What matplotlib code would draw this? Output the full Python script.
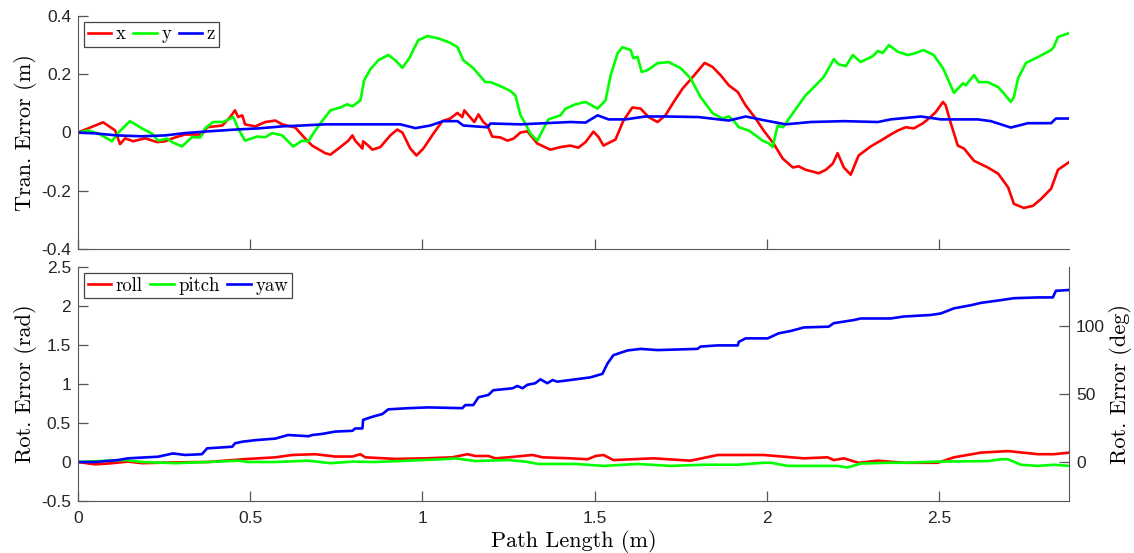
import matplotlib.pyplot as plt
from matplotlib.ticker import FuncFormatter
import numpy as np

# Datos (longitud de camino en m, error)
x_path = [0, 0.073, 0.108, 0.122, 0.137, 0.160, 0.195, 0.230, 0.253, 0.282, 0.311, 0.360, 0.375,
          0.419, 0.442, 0.456, 0.465, 0.477, 0.485, 0.515, 0.544, 0.573, 0.593, 0.631, 0.660, 0.680,
          0.718, 0.733, 0.762, 0.785, 0.797, 0.805, 0.826, 0.828, 0.843, 0.855, 0.878, 0.907, 0.927,
          0.942, 0.965, 0.983, 1.003, 1.032, 1.058, 1.081, 1.102, 1.116, 1.122, 1.134, 1.151, 1.163,
          1.177, 1.189, 1.203, 1.227, 1.247, 1.265, 1.285, 1.305, 1.334, 1.372, 1.401, 1.430, 1.453,
          1.474, 1.497, 1.512, 1.526, 1.561, 1.584, 1.610, 1.634, 1.657, 1.683, 1.706, 1.730, 1.756,
          1.785, 1.802, 1.820, 1.843, 1.866, 1.890, 1.916, 1.939, 1.968, 1.991, 2.020, 2.047, 2.076,
          2.093, 2.113, 2.142, 2.151, 2.172, 2.192, 2.206, 2.224, 2.244, 2.267, 2.302, 2.331, 2.360,
          2.381, 2.404, 2.427, 2.453, 2.471, 2.491, 2.512, 2.520, 2.535, 2.555, 2.573, 2.602, 2.642,
          2.672, 2.701, 2.718, 2.747, 2.773, 2.797, 2.826, 2.846, 2.878]
x_err = [0, 0.035, 0.007, -0.04, -0.02, -0.03, -0.02, -0.033, -0.03, -0.017, -0.007, -0.007, 0.018,
         0.024, 0.053, 0.076, 0.053, 0.059, 0.028, 0.021, 0.036, 0.041, 0.028, 0.017, -0.021, -0.045,
         -0.071, -0.076, -0.05, -0.028, -0.01, -0.028, -0.055, -0.03, -0.045, -0.059, -0.05, -0.01, 0.01,
         0.0, -0.055, -0.079, -0.055, -0.004, 0.039, 0.048, 0.067, 0.053, 0.076, 0.059, 0.036, 0.062,
         0.036, 0.024, -0.014, -0.017, -0.028, -0.021, 0.0, 0.004, -0.038, -0.059, -0.05, -0.045, -0.052,
         -0.033, 0.003, -0.016, -0.045, -0.024, 0.041, 0.086, 0.082, 0.053, 0.036, 0.059, 0.105, 0.151,
         0.19, 0.214, 0.239, 0.225, 0.197, 0.162, 0.139, 0.093, 0.048, 0.007, -0.038, -0.09, -0.12,
         -0.116, -0.128, -0.137, -0.14, -0.128, -0.107, -0.071, -0.12, -0.145, -0.079, -0.048, -0.028, -0.007,
         0.007, 0.018, 0.014, 0.031, 0.048, 0.07, 0.105, 0.093, 0.031, -0.045, -0.055, -0.097, -0.12,
         -0.141, -0.188, -0.245, -0.259, -0.252, -0.228, -0.193, -0.128, -0.102]

y_path = [0, 0.029, 0.058, 0.099, 0.116, 0.151, 0.186, 0.215, 0.233, 0.259, 0.273, 0.302, 0.331,
          0.355, 0.369, 0.392, 0.422, 0.451, 0.465, 0.485, 0.520, 0.544, 0.564, 0.593, 0.625, 0.651,
          0.669, 0.689, 0.703, 0.733, 0.762, 0.782, 0.797, 0.820, 0.831, 0.849, 0.872, 0.901, 0.922,
          0.942, 0.962, 0.988, 1.015, 1.047, 1.081, 1.102, 1.119, 1.148, 1.183, 1.198, 1.233, 1.256,
          1.270, 1.285, 1.299, 1.314, 1.334, 1.349, 1.366, 1.401, 1.416, 1.445, 1.474, 1.509, 1.532,
          1.547, 1.567, 1.581, 1.605, 1.613, 1.625, 1.637, 1.654, 1.683, 1.715, 1.750, 1.779, 1.808,
          1.843, 1.872, 1.890, 1.904, 1.919, 1.948, 1.968, 1.988, 2.006, 2.017, 2.032, 2.047, 2.076,
          2.113, 2.128, 2.166, 2.195, 2.209, 2.230, 2.250, 2.273, 2.308, 2.323, 2.337, 2.355, 2.381,
          2.410, 2.433, 2.456, 2.485, 2.512, 2.544, 2.570, 2.578, 2.602, 2.616, 2.642, 2.672, 2.689,
          2.709, 2.718, 2.730, 2.753, 2.788, 2.826, 2.834, 2.846, 2.878]
y_err = [0, 0.007, -0.003, -0.03, -0.002, 0.039, 0.014, -0.004, -0.028, -0.021, -0.033, -0.048, -0.016,
         -0.017, 0.014, 0.036, 0.036, 0.053, 0.014, -0.028, -0.014, -0.016, -0.002, -0.01, -0.048, -0.028,
         -0.03, 0.007, 0.03, 0.076, 0.086, 0.097, 0.09, 0.11, 0.179, 0.217, 0.248, 0.266, 0.248,
         0.222, 0.255, 0.317, 0.331, 0.323, 0.308, 0.293, 0.248, 0.221, 0.173, 0.173, 0.156, 0.142,
         0.128, 0.059, 0.031, -0.004, -0.028, 0.007, 0.045, 0.059, 0.082, 0.097, 0.105, 0.082, 0.11,
         0.197, 0.272, 0.293, 0.283, 0.255, 0.26, 0.208, 0.214, 0.238, 0.242, 0.221, 0.186, 0.122,
         0.066, 0.048, 0.055, 0.041, 0.018, 0.007, -0.01, -0.028, -0.037, -0.05, 0.024, 0.018, 0.066,
         0.128, 0.145, 0.191, 0.252, 0.234, 0.228, 0.266, 0.242, 0.262, 0.28, 0.273, 0.3, 0.277,
         0.266, 0.273, 0.283, 0.266, 0.221, 0.136, 0.169, 0.162, 0.197, 0.173, 0.173, 0.156, 0.134,
         0.105, 0.122, 0.186, 0.239, 0.259, 0.283, 0.294, 0.328, 0.341]

z_path = [0, 0.049, 0.113, 0.186, 0.253, 0.311, 0.378, 0.456, 0.523, 0.593, 0.651, 0.718, 0.791,
          0.898, 0.936, 0.980, 1.023, 1.061, 1.102, 1.119, 1.189, 1.198, 1.285, 1.430, 1.474, 1.509,
          1.541, 1.590, 1.648, 1.706, 1.802, 1.890, 1.939, 1.997, 2.055, 2.128, 2.224, 2.323, 2.360,
          2.448, 2.506, 2.613, 2.651, 2.709, 2.759, 2.826, 2.840, 2.878]
z_err = [0, -0.003, -0.01, -0.013, -0.01, -0.002, 0.004, 0.01, 0.014, 0.021, 0.024, 0.028, 0.028,
         0.028, 0.028, 0.015, 0.024, 0.039, 0.039, 0.024, 0.018, 0.031, 0.028, 0.036, 0.034, 0.059,
         0.045, 0.045, 0.055, 0.055, 0.053, 0.041, 0.055, 0.041, 0.028, 0.036, 0.039, 0.036, 0.045,
         0.055, 0.045, 0.045, 0.039, 0.017, 0.032, 0.032, 0.048, 0.048]

roll_path = [0, 0.049, 0.087, 0.145, 0.186, 0.282, 0.378, 0.477, 0.573, 0.622, 0.689, 0.747, 0.797,
             0.820, 0.834, 0.922, 1.009, 1.087, 1.131, 1.154, 1.192, 1.212, 1.250, 1.320, 1.349, 1.430,
             1.480, 1.503, 1.526, 1.555, 1.672, 1.779, 1.858, 1.991, 2.108, 2.177, 2.195, 2.224, 2.267,
             2.323, 2.398, 2.497, 2.544, 2.622, 2.701, 2.788, 2.834, 2.878]
roll_err = [0, -0.03, -0.02, 0.005, -0.015, -0.005, 0, 0.035, 0.06, 0.09, 0.1, 0.07, 0.07,
            0.1, 0.06, 0.04, 0.047, 0.06, 0.1, 0.077, 0.077, 0.047, 0.06, 0.09, 0.06, 0.047,
            0.035, 0.077, 0.09, 0.025, 0.047, 0.017, 0.09, 0.09, 0.047, 0.06, 0.025, 0.047, -0.01,
            0.017, -0.01, -0.01, 0.06, 0.12, 0.14, 0.1, 0.1, 0.12]

pitch_path = [0, 0.087, 0.137, 0.186, 0.282, 0.378, 0.465, 0.494, 0.573, 0.669, 0.733, 0.797, 0.863,
              0.959, 1.058, 1.096, 1.154, 1.250, 1.299, 1.337, 1.445, 1.526, 1.625, 1.721, 1.817, 1.916,
              1.991, 2.012, 2.061, 2.206, 2.235, 2.273, 2.352, 2.398, 2.497, 2.642, 2.680, 2.701, 2.738,
              2.788, 2.834, 2.878]
pitch_err = [0, 0.017, 0.025, 0, -0.015, 0, 0.017, 0, 0, 0.017, -0.015, 0.005, 0,
             0.017, 0.035, 0.047, 0.012, 0.025, 0.005, -0.025, -0.025, -0.05, -0.025, -0.05, -0.035, -0.035,
             -0.01, -0.01, -0.05, -0.05, -0.07, -0.02, -0.01, -0.01, 0.005, 0.012, 0.035, 0.035, -0.035,
             -0.05, -0.035, -0.05]

yaw_path = [0, 0.049, 0.116, 0.145, 0.233, 0.276, 0.311, 0.360, 0.375, 0.448, 0.456, 0.477, 0.515,
            0.573, 0.610, 0.660, 0.669, 0.680, 0.709, 0.747, 0.797, 0.805, 0.826, 0.828, 0.855, 0.884,
            0.901, 0.959, 1.017, 1.116, 1.125, 1.148, 1.163, 1.192, 1.206, 1.262, 1.276, 1.291, 1.305,
            1.328, 1.343, 1.363, 1.378, 1.392, 1.445, 1.488, 1.523, 1.538, 1.555, 1.596, 1.634, 1.683,
            1.799, 1.808, 1.858, 1.916, 1.919, 1.939, 2.003, 2.035, 2.070, 2.108, 2.180, 2.195, 2.253,
            2.273, 2.360, 2.398, 2.477, 2.506, 2.544, 2.593, 2.622, 2.672, 2.718, 2.788, 2.831, 2.840,
            2.878]
yaw_err = [0, 0, 0.025, 0.047, 0.068, 0.11, 0.09, 0.1, 0.175, 0.196, 0.24, 0.26, 0.28,
           0.3, 0.346, 0.333, 0.33, 0.346, 0.36, 0.39, 0.4, 0.43, 0.43, 0.54, 0.58, 0.615,
           0.675, 0.69, 0.7, 0.69, 0.73, 0.73, 0.83, 0.86, 0.92, 0.945, 0.975, 0.945, 0.99,
           1.01, 1.06, 1.01, 1.05, 1.03, 1.06, 1.085, 1.13, 1.265, 1.37, 1.43, 1.45, 1.435,
           1.45, 1.48, 1.495, 1.495, 1.54, 1.585, 1.585, 1.65, 1.68, 1.725, 1.735, 1.78, 1.82,
           1.84, 1.84, 1.865, 1.885, 1.905, 1.97, 2.01, 2.04, 2.07, 2.1, 2.11, 2.11, 2.195,
           2.205]

x_max = 2.878
x_ticks = [0, 0.5, 1, 1.5, 2, 2.5]

plt.rcParams['axes.unicode_minus'] = False
plt.rcParams['font.family'] = ['Liberation Sans', 'DejaVu Sans']

label_font = dict(family='cmr10', size=16)
legend_font = dict(family='cmr10', size=13.5)
axis_color = '#555555'
tick_color = '#262626'
tick_size = 12.5
fmt = FuncFormatter(lambda v, p: f'{v:g}')


def style_axis(ax):
    for s in ['top', 'right']:
        ax.spines[s].set_visible(False)
    for s in ['left', 'bottom']:
        ax.spines[s].set_color(axis_color)
    ax.tick_params(direction='in', length=7, width=0.9, color=axis_color,
                   labelcolor=tick_color, labelsize=tick_size)
    ax.tick_params(axis='x', pad=7)
    ax.tick_params(axis='y', pad=5)
    ax.set_xlim(0, x_max)
    ax.set_xticks(x_ticks)
    ax.xaxis.set_major_formatter(fmt)
    ax.yaxis.set_major_formatter(fmt)


def add_legend(ax):
    leg = ax.legend(loc='upper left', ncol=3, prop=legend_font,
                    handlelength=1.25, handletextpad=0.25, columnspacing=0.4,
                    borderpad=0.2, borderaxespad=0, fancybox=False, framealpha=1,
                    bbox_to_anchor=(0.006, 0.975))
    leg.get_frame().set_edgecolor('#444444')
    leg.get_frame().set_linewidth(0.9)


fig = plt.figure(figsize=(11.34, 5.53), dpi=100)
ax1 = fig.add_axes([78 / 1134, 1 - 249 / 553, 991 / 1134, 233 / 553])
ax2 = fig.add_axes([78 / 1134, 1 - 501 / 553, 991 / 1134, 234 / 553])

lw = 1.9
# Panel superior: error de traslacion
ax1.plot(x_path, x_err, color='#ff0000', lw=lw, label='x')
ax1.plot(y_path, y_err, color='#00ff00', lw=lw, label='y')
ax1.plot(z_path, z_err, color='#0000ff', lw=lw, label='z')
style_axis(ax1)
ax1.set_ylim(-0.4, 0.4)
ax1.set_yticks([-0.4, -0.2, 0, 0.2, 0.4])
ax1.tick_params(axis='x', labelbottom=False)
ax1.set_ylabel('Tran. Error (m)', fontdict=label_font, labelpad=3)
add_legend(ax1)

# Panel inferior: error de rotacion
ax2.plot(roll_path, roll_err, color='#ff0000', lw=lw, label='roll')
ax2.plot(pitch_path, pitch_err, color='#00ff00', lw=lw, label='pitch')
ax2.plot(yaw_path, yaw_err, color='#0000ff', lw=lw, label='yaw')
style_axis(ax2)
ax2.set_ylim(-0.5, 2.5)
ax2.set_yticks([-0.5, 0, 0.5, 1, 1.5, 2, 2.5])
ax2.set_ylabel('Rot. Error (rad)', fontdict=label_font, labelpad=3)
ax2.set_xlabel('Path Length (m)', fontdict=label_font, labelpad=3)
add_legend(ax2)

# Eje derecho en grados
ax3 = ax2.twinx()
ax3.set_ylim(np.degrees(-0.5), np.degrees(2.5))
ax3.set_yticks([0, 50, 100])
for s in ['top', 'left', 'bottom']:
    ax3.spines[s].set_visible(False)
ax3.spines['right'].set_color(axis_color)
ax3.tick_params(direction='in', length=7, width=0.9, color=axis_color,
                labelcolor=tick_color, labelsize=tick_size, pad=5)
ax3.set_ylabel('Rot. Error (deg)', fontdict=label_font, labelpad=3)

fig.savefig('out.png', dpi=100)
